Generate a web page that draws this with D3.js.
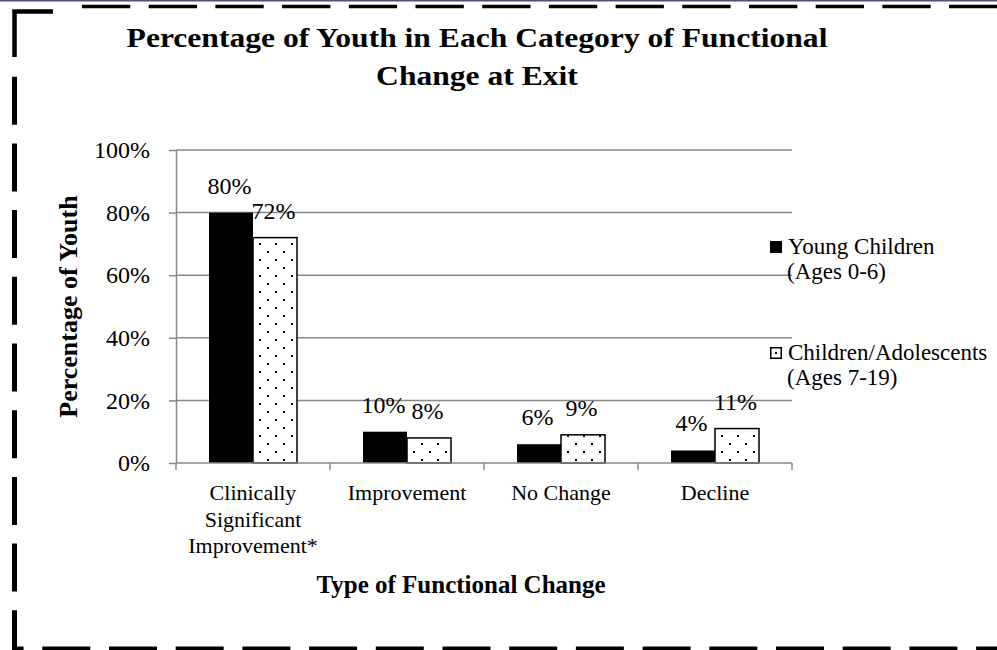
<!DOCTYPE html>
<html>
<head>
<meta charset="utf-8">
<script src="https://cdn.jsdelivr.net/npm/d3@7"></script>
<style>
  html, body { margin: 0; padding: 0; background: #fff; }
  svg { display: block; font-family: "Liberation Serif", "Times New Roman", serif; }
</style>
</head>
<body>
<svg id="chart" width="997" height="650"></svg>
<script>
// ---- data ----
const categories = [
  ["Clinically", "Significant", "Improvement*"],
  ["Improvement"],
  ["No Change"],
  ["Decline"]
];
const seriesKeys = ["young", "older"];
const youngChildren = [80, 10, 6, 4];     // Young Children (Ages 0-6)
const olderYouth = [72, 8, 9, 11];        // Children/Adolescents (Ages 7-19)
const legendLabels = [
  ["Young Children", "(Ages 0-6)"],
  ["Children/Adolescents", "(Ages 7-19)"]
];
const yTicks = [0, 20, 40, 60, 80, 100];
const titleLines = ["Percentage of Youth in Each Category of Functional", "Change at Exit"];
const yTitle = "Percentage of Youth";
const xTitle = "Type of Functional Change";

// ---- layout ----
const svg = d3.select("#chart");
const plot = { left: 176, right: 792, top: 150, bottom: 463 };
const gridColor = "#898989";

const x0 = d3.scaleBand().domain(d3.range(categories.length)).range([plot.left, plot.right]).padding(0);
const x1 = d3.scaleBand().domain(seriesKeys).range([0, x0.bandwidth()]).paddingInner(0).paddingOuter(0.75);
const y = d3.scaleLinear().domain([0, 100]).range([plot.bottom, plot.top]);

// dotted fill for the second series
const defs = svg.append("defs");
const pat = defs.append("pattern").attr("id", "dots")
  .attr("patternUnits", "userSpaceOnUse").attr("width", 16).attr("height", 16);
pat.append("rect").attr("width", 16).attr("height", 16).attr("fill", "#fff");
pat.append("rect").attr("x", 3).attr("y", 3).attr("width", 2).attr("height", 2).attr("fill", "#000");
pat.append("rect").attr("x", 11).attr("y", 11).attr("width", 2).attr("height", 2).attr("fill", "#000");

// ---- frame ----
svg.append("rect").attr("x", 0).attr("y", 0).attr("width", 997).attr("height", 1.5).attr("fill", "#5f497a");
const frame = svg.append("g").attr("stroke", "#000").attr("fill", "none");
frame.append("line").attr("x1", 82).attr("x2", 997).attr("y1", 6.5).attr("y2", 6.5)
  .attr("stroke-width", 3.5).attr("stroke-dasharray", "48.3 18.4");
frame.append("path").attr("d", "M53,11.5 H14.5 V57").attr("stroke-width", 5).attr("stroke-width", 4.5);
frame.append("line").attr("x1", 14.5).attr("x2", 14.5).attr("y1", 76.7).attr("y2", 650)
  .attr("stroke-width", 5).attr("stroke-dasharray", "48 18.7");
frame.append("line").attr("x1", 12).attr("x2", 997).attr("y1", 648.5).attr("y2", 648.5)
  .attr("stroke-width", 4).attr("stroke-dasharray", "11.6 18.7 48 18.7 48 18.7 48 18.7 48 18.7 48 18.7 48 18.7 48 18.7 48 18.7 48 18.7 48 18.7 48 18.7 48 18.7 48 18.7 48 18.7 48 18.7");

// ---- title ----
const titleG = svg.append("g").attr("font-weight", "bold").attr("font-size", 27);
titleLines.forEach((t, i) => {
  titleG.append("g").attr("transform", `translate(477,${47 + i * 38}) scale(1.17,1)`)
    .append("text").attr("text-anchor", "middle").text(t);
});

// ---- gridlines ----
svg.append("g").selectAll("line").data(yTicks.filter(d => d > 0)).join("line")
  .attr("x1", plot.left).attr("x2", plot.right)
  .attr("y1", d => y(d)).attr("y2", d => y(d))
  .attr("stroke", gridColor).attr("stroke-width", 1.5);

// ---- y axis ----
const yAxis = svg.append("g").attr("transform", `translate(${plot.left},0)`)
  .call(d3.axisLeft(y).tickValues(yTicks).tickSize(7).tickSizeOuter(0).tickPadding(19).tickFormat(d => d + "%"));
yAxis.select(".domain").attr("stroke", gridColor).attr("stroke-width", 1.5);
yAxis.selectAll(".tick line").attr("stroke", gridColor).attr("stroke-width", 1.5);
yAxis.selectAll(".tick text").attr("font-size", 24).attr("font-family", "Liberation Serif, Times New Roman, serif").attr("fill", "#000");

// ---- bars ----
const rows = categories.map((c, i) => ({ i, young: youngChildren[i], older: olderYouth[i] }));
const groups = svg.append("g").selectAll("g").data(rows).join("g")
  .attr("transform", d => `translate(${x0(d.i)},0)`);
groups.selectAll("rect").data(d => seriesKeys.map(k => ({ key: k, value: d[k] }))).join("rect")
  .attr("x", d => x1(d.key)).attr("width", x1.bandwidth())
  .attr("y", d => y(d.value)).attr("height", d => y(0) - y(d.value))
  .attr("fill", d => d.key === "young" ? "#000" : "url(#dots)")
  .attr("stroke", "#000").attr("stroke-width", d => d.key === "young" ? 0 : 1.5);
groups.selectAll("text").data(d => seriesKeys.map(k => ({ key: k, value: d[k] }))).join("text")
  .attr("x", d => x1(d.key) + x1.bandwidth() / 2 - 1.5)
  .attr("y", d => y(d.value) - 19)
  .attr("text-anchor", "middle").attr("font-size", 24)
  .text(d => d.value + "%");

// ---- x axis ----
const xAxis = svg.append("g").attr("stroke", gridColor).attr("stroke-width", 1.5);
xAxis.append("line").attr("x1", plot.left).attr("x2", plot.right).attr("y1", y(0)).attr("y2", y(0));
const bounds = categories.map((c, i) => x0(i)).concat([x0.range()[1]]);
xAxis.selectAll("line.tk").data(bounds).join("line").attr("class", "tk")
  .attr("x1", d => d).attr("x2", d => d).attr("y1", y(0)).attr("y2", y(0) + 7);

const catG = svg.append("g").attr("font-size", 22).attr("text-anchor", "middle");
categories.forEach((lines, i) => {
  const t = catG.append("text").attr("x", x0(i) + x0.bandwidth() / 2).attr("y", 500);
  lines.forEach((ln, j) => t.append("tspan").attr("x", x0(i) + x0.bandwidth() / 2).attr("y", 500 + j * 26.5).text(ln));
});

// ---- axis titles ----
svg.append("text").attr("transform", `translate(77,${(plot.top + plot.bottom) / 2}) rotate(-90)`)
  .attr("text-anchor", "middle").attr("font-weight", "bold").attr("font-size", 26).text(yTitle);
svg.append("text").attr("x", 461).attr("y", 593)
  .attr("text-anchor", "middle").attr("font-weight", "bold").attr("font-size", 25).text(xTitle);

// ---- legend ----
const legend = svg.append("g").attr("font-size", 23);
const legendTops = [241, 347];
legendLabels.forEach((lines, i) => {
  const g = legend.append("g").attr("transform", `translate(770,${legendTops[i]})`);
  if (i === 0) {
    g.append("rect").attr("width", 12).attr("height", 12).attr("fill", "#000");
  } else {
    g.append("rect").attr("x", 0.75).attr("y", 0.75).attr("width", 10.5).attr("height", 10.5)
      .attr("fill", "#fff").attr("stroke", "#000").attr("stroke-width", 1.5);
    g.append("rect").attr("x", 5).attr("y", 5).attr("width", 2).attr("height", 2).attr("fill", "#000");
  }
  lines.forEach((ln, j) => {
    g.append("text").attr("x", 18 - j).attr("y", 13 + j * 25).text(ln);
  });
});
</script>
</body>
</html>
